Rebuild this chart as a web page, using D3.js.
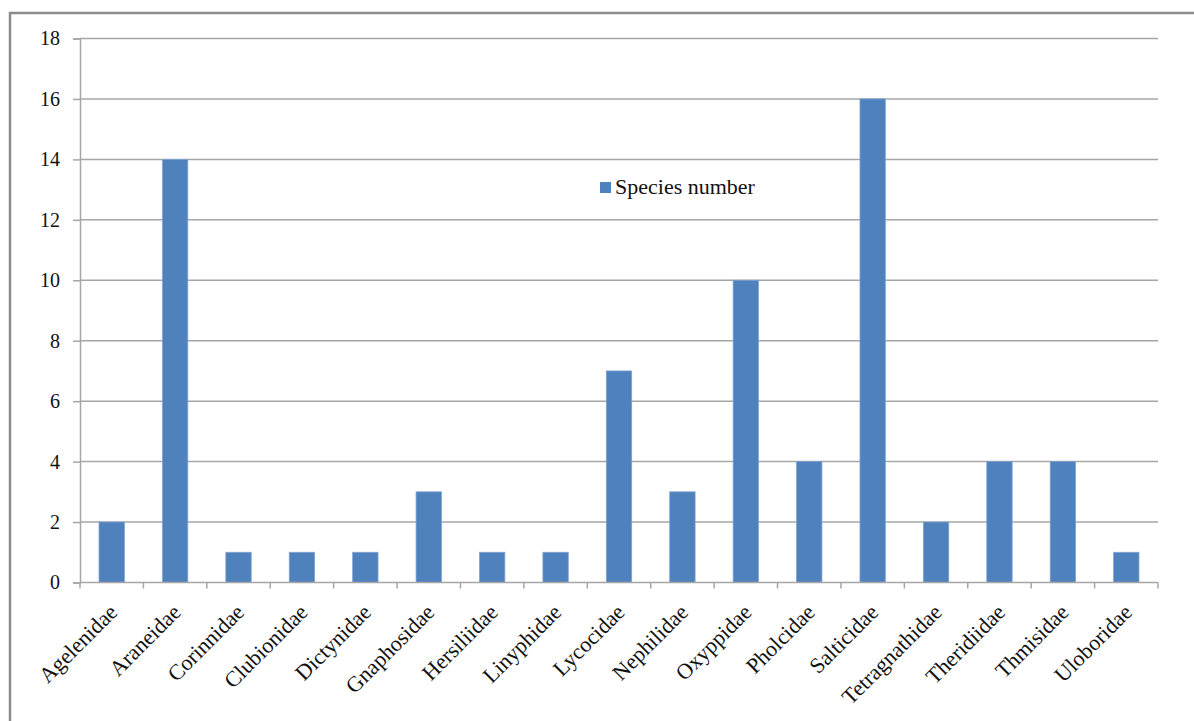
<!DOCTYPE html>
<html>
<head>
<meta charset="utf-8">
<script src="https://cdn.jsdelivr.net/npm/d3@7"></script>
<style>
  body { margin: 0; background: #fff; }
</style>
</head>
<body>
<div id="chart"></div>
<script>
var families = ["Agelenidae", "Araneidae", "Corinnidae", "Clubionidae", "Dictynidae",
  "Gnaphosidae", "Hersiliidae", "Linyphidae", "Lycocidae", "Nephilidae", "Oxyppidae",
  "Pholcidae", "Salticidae", "Tetragnathidae", "Theridiidae", "Thmisidae", "Uloboridae"];
var speciesNumber = [2, 14, 1, 1, 1, 3, 1, 1, 7, 3, 10, 4, 16, 2, 4, 4, 1];
var yTicks = [0, 2, 4, 6, 8, 10, 12, 14, 16, 18];
var seriesName = "Species number";

var width = 1194, height = 721;
var margin = { top: 38.5, left: 80, right: 36, bottom: 138.5 };
var barColor = "#4f81bd";
var gridColor = "#a6a6a6";
var serif = "'Liberation Serif', 'Times New Roman', 'DejaVu Serif', serif";

var svg = d3.select("#chart").append("svg")
  .attr("width", width)
  .attr("height", height)
  .style("font-family", serif);

// outer frame (cut off at right/bottom in the original)
svg.append("rect")
  .attr("x", 10).attr("y", 13)
  .attr("width", width + 20).attr("height", height + 20)
  .attr("fill", "none")
  .attr("stroke", "#8c8c8c")
  .attr("stroke-width", 2.5);

var x = d3.scaleBand()
  .domain(families)
  .range([margin.left, width - margin.right]);

var y = d3.scaleLinear()
  .domain([0, 18])
  .range([height - margin.bottom, margin.top]);

// gridlines + y labels
var yAxis = svg.append("g")
  .attr("transform", "translate(" + margin.left + ",0)")
  .call(d3.axisLeft(y).tickValues(yTicks).tickSize(7).tickPadding(13));
yAxis.attr("font-family", serif).attr("font-size", 20);
yAxis.select(".domain").attr("stroke", gridColor).attr("stroke-width", 1.5);
yAxis.selectAll(".tick line").attr("stroke", gridColor).attr("stroke-width", 1.5);
yAxis.selectAll(".tick text")
  .style("font-family", serif)
  .style("font-size", "20px")
  .attr("fill", "#111");

svg.append("g")
  .selectAll("line")
  .data(yTicks.filter(function (d) { return d > 0; }))
  .join("line")
  .attr("x1", margin.left)
  .attr("x2", width - margin.right)
  .attr("y1", function (d) { return y(d); })
  .attr("y2", function (d) { return y(d); })
  .attr("stroke", gridColor)
  .attr("stroke-width", 1.5);

// bars
var barW = x.bandwidth() * 0.4;
svg.append("g")
  .selectAll("rect")
  .data(speciesNumber)
  .join("rect")
  .attr("x", function (d, i) { return x(families[i]) + (x.bandwidth() - barW) / 2; })
  .attr("y", function (d) { return y(d); })
  .attr("width", barW)
  .attr("height", function (d) { return y(0) - y(d); })
  .attr("fill", barColor)
  .attr("stroke", "#7ea3d3")
  .attr("stroke-width", 0.8);

// x axis with ticks on category boundaries
var xAxisG = svg.append("g")
  .attr("transform", "translate(0," + y(0) + ")");
xAxisG.append("line")
  .attr("x1", margin.left).attr("x2", width - margin.right)
  .attr("stroke", gridColor).attr("stroke-width", 1.5);
xAxisG.selectAll(".bound")
  .data(families.concat(["end"]))
  .join("line")
  .attr("class", "bound")
  .attr("x1", function (d, i) { return i < families.length ? x(d) : x.range()[1]; })
  .attr("x2", function (d, i) { return i < families.length ? x(d) : x.range()[1]; })
  .attr("y1", 0).attr("y2", 6)
  .attr("stroke", gridColor).attr("stroke-width", 1.5);

xAxisG.selectAll(".lbl")
  .data(families)
  .join("text")
  .attr("class", "lbl")
  .attr("text-anchor", "end")
  .attr("transform", function (d) {
    return "translate(" + (x(d) + x.bandwidth() / 2 + 7) + ",31) rotate(-45)";
  })
  .style("font-family", serif)
  .style("font-size", "22px")
  .attr("fill", "#111")
  .text(function (d) { return d; });

// legend
var legend = svg.append("g").attr("transform", "translate(600,182)");
legend.append("rect")
  .attr("width", 11).attr("height", 11)
  .attr("fill", barColor);
legend.append("text")
  .attr("x", 15).attr("y", 12)
  .style("font-family", serif)
  .style("font-size", "22px")
  .attr("fill", "#111")
  .text(seriesName);
</script>
</body>
</html>
